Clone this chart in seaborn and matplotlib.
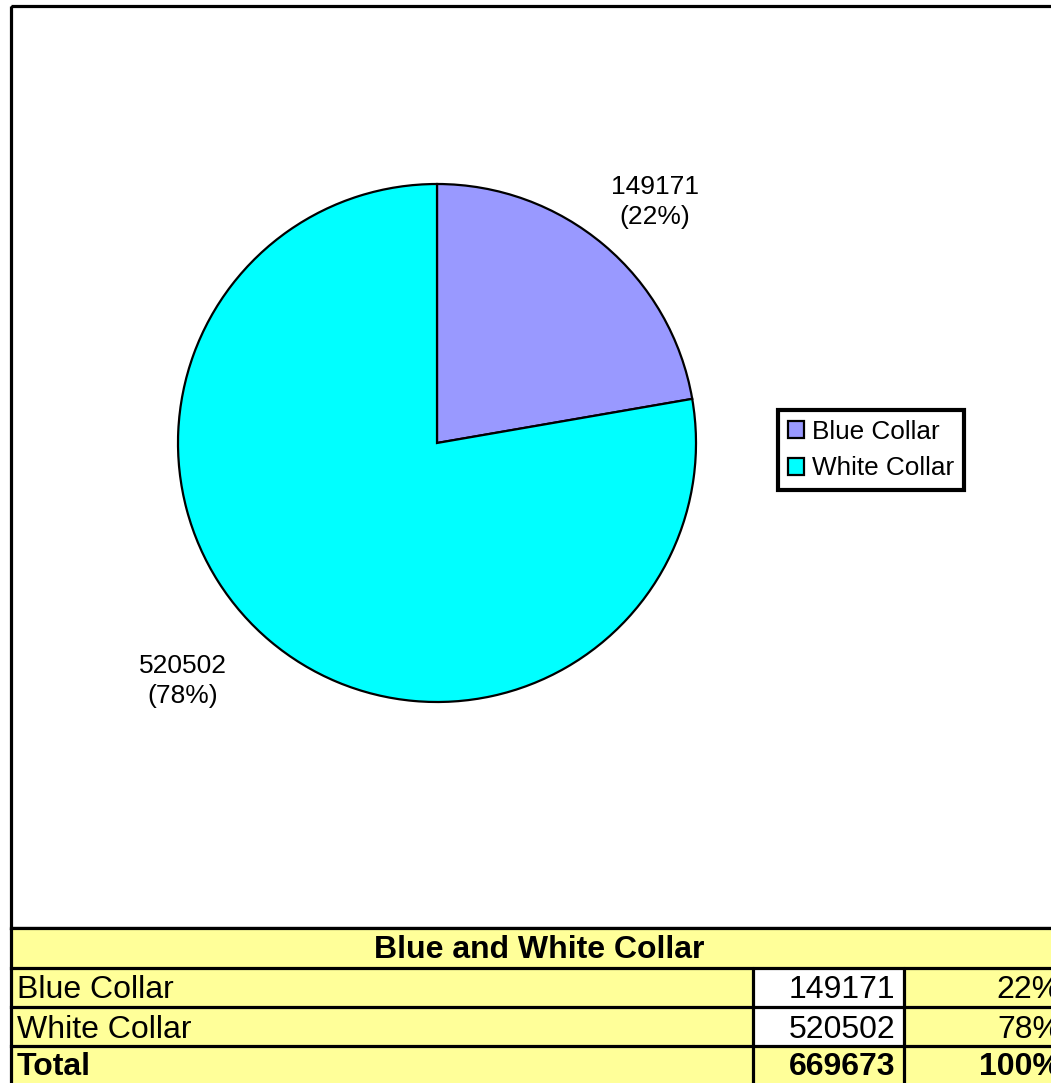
import matplotlib
matplotlib.use("Agg")
import matplotlib.pyplot as plt
from matplotlib.patches import Rectangle
import seaborn as sns

# Data
categories = ["Blue Collar", "White Collar"]
counts = [149171, 520502]
percents = ["22%", "78%"]
total_label = "Total"
total_count = 669673
total_percent = "100%"
table_title = "Blue and White Collar"

sns.set_theme(style="white")
plt.rcParams["font.family"] = ["Liberation Sans", "DejaVu Sans"]
plt.rcParams["text.color"] = "black"
palette = sns.color_palette(["#9999FF", "#00FFFF"])

W, H = 1051, 1083
fig = plt.figure(figsize=(W / 100, H / 100), dpi=100)
fig.patch.set_facecolor("white")

# Background layer in pixel coordinates: chart frame + data table
bg = fig.add_axes([0, 0, 1, 1])
bg.set_xlim(0, W)
bg.set_ylim(H, 0)
bg.axis("off")

lw = 2.3
right = 1068
bg.add_patch(Rectangle((10.5, 5.5), right - 10.5, 922.5, fill=False,
                       edgecolor="black", linewidth=lw, zorder=1))

yellow = "#FFFF99"
row_edges = [928, 968, 1007, 1046, 1090]
col_edges = [11, 753, 904, right]
bg.add_patch(Rectangle((11, 928), right - 11, 1090 - 928, facecolor=yellow,
                       edgecolor="none", zorder=2))
# white value cells for the category rows
for r in range(1, 3):
    bg.add_patch(Rectangle((col_edges[1], row_edges[r]), col_edges[2] - col_edges[1],
                           row_edges[r + 1] - row_edges[r], facecolor="white",
                           edgecolor="none", zorder=2))
for y in row_edges[:-1]:
    bg.plot([11, right], [y, y], color="black", lw=lw, zorder=3, solid_capstyle="projecting")
bg.plot([11, 11], [928, 1090], color="black", lw=lw, zorder=3)
for x in col_edges[1:3]:
    bg.plot([x, x], [968, 1090], color="black", lw=lw, zorder=3)

fs_tab = 23
bg.text((11 + right) / 2, 950, table_title, ha="center", va="center",
        fontsize=fs_tab, fontweight="bold", color="black", zorder=4)
row_names = categories + [total_label]
row_counts = counts + [total_count]
row_pcts = percents + [total_percent]
for i, (name, cnt, pct) in enumerate(zip(row_names, row_counts, row_pcts)):
    yc = (row_edges[i + 1] + row_edges[i + 2]) / 2 + 3
    if i == 2:
        yc = 1067
    weight = "bold" if name == total_label else "normal"
    bg.text(17, yc, name, ha="left", va="center", fontsize=fs_tab,
            fontweight=weight, color="black", zorder=4)
    bg.text(895, yc, str(cnt), ha="right", va="center", fontsize=fs_tab,
            fontweight=weight, color="black", zorder=4)
    bg.text(1061, yc, pct, ha="right", va="center", fontsize=fs_tab,
            fontweight=weight, color="black", zorder=4)

# Pie chart
cx, cy, R, half = 437, 443, 259, 320
ax = fig.add_axes([(cx - half) / W, 1 - (cy + half) / H, 2 * half / W, 2 * half / H])
wedges, _ = ax.pie(counts, colors=palette, startangle=90, counterclock=False,
                   radius=1.0, wedgeprops=dict(edgecolor="black", linewidth=1.6))
lim = half / R
ax.set_xlim(-lim, lim)
ax.set_ylim(-lim, lim)
ax.set_aspect("equal")
ax.axis("off")
ax.patch.set_alpha(0)

label_pos = [((655 - cx) / R, (cy - 202) / R), ((183 - cx) / R, (cy - 681) / R)]
for (lx, ly), cnt, pct in zip(label_pos, counts, percents):
    ax.text(lx, ly, f"{cnt}\n({pct})", ha="center", va="center", fontsize=19,
            linespacing=1.35, color="black")

leg = fig.legend(wedges, categories, loc="center",
                 bbox_to_anchor=(871 / W, 1 - 450 / H), fontsize=18.8,
                 frameon=True, fancybox=False, framealpha=1,
                 handlelength=0.62, handleheight=0.62,
                 handletextpad=0.3, labelspacing=0.48, borderpad=0.38,
                 borderaxespad=0)
leg.get_frame().set_edgecolor("black")
leg.get_frame().set_linewidth(3)
for t in leg.get_texts():
    t.set_color("black")
for h in leg.legend_handles:
    h.set_linewidth(1.6)

fig.savefig("out.png", dpi=100)
